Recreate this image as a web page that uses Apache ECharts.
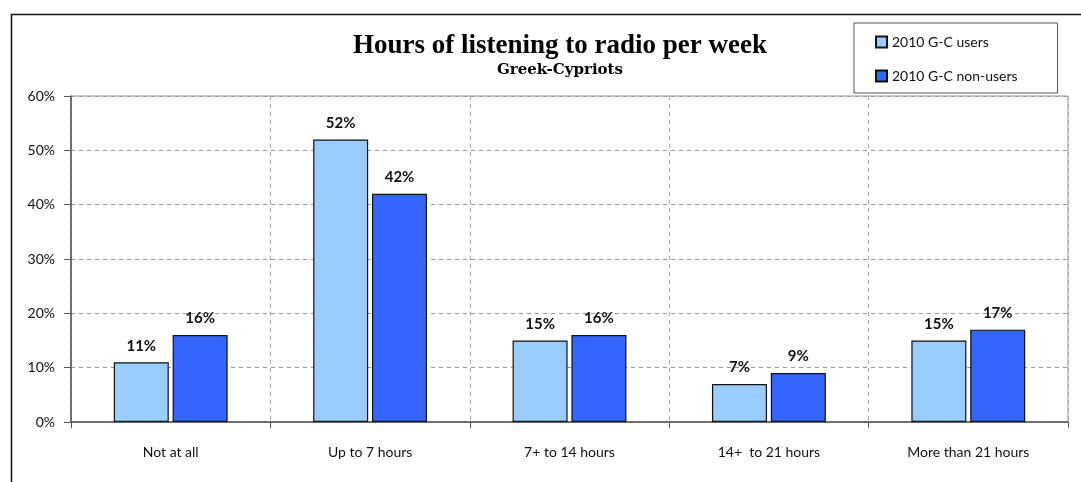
<!DOCTYPE html>
<html>
<head>
<meta charset="utf-8">
<title>Hours of listening to radio per week</title>
<script src="https://cdn.jsdelivr.net/npm/echarts@6/dist/echarts.min.js"></script>
<style>
  html, body { margin: 0; padding: 0; background: #fff; }
  #chart { width: 1081px; height: 482px; }
</style>
</head>
<body>
<div id="chart"></div>
<script>
var categories = ['Not at all', 'Up to 7 hours', '7+ to 14 hours', '14+  to 21 hours', 'More than 21 hours'];
var usersValues = [11, 52, 15, 7, 15];
var nonUsersValues = [16, 42, 16, 9, 17];
var seriesNames = ['2010 G-C users', '2010 G-C non-users'];
var yTicks = [0, 10, 20, 30, 40, 50, 60];

(function () {
  var chart = echarts.init(document.getElementById('chart'));
  var sansFont = 'Lato, "Open Sans", sans-serif';
  var serifFont = '"Liberation Serif", "DejaVu Serif", serif';

  function barLabel() {
    return {
      show: true,
      position: 'top',
      distance: 9,
      formatter: '{c}%',
      color: '#111',
      fontFamily: sansFont,
      fontWeight: 'bold',
      fontSize: 15,
    };
  }

  var option = {
    backgroundColor: '#fff',
    animation: false,
    // outer frame of the chart area
    graphic: [
      {
        type: 'rect',
        left: 9,
        top: 12,
        shape: { width: 1100, height: 500 },
        style: { fill: 'none', stroke: '#111', lineWidth: 1.5 },
        silent: true,
      },
    ],
    title: {
      text: 'Hours of listening to radio per week',
      subtext: 'Greek-Cypriots',
      left: 555,
      textAlign: 'center',
      top: 28,
      itemGap: 3,
      textStyle: {
        fontFamily: serifFont,
        fontWeight: 'bold',
        fontSize: 27,
        color: '#000',
      },
      subtextStyle: {
        fontFamily: '"DejaVu Serif", serif',
        fontWeight: 'bold',
        fontSize: 15,
        color: '#000',
      },
    },
    legend: {
      orient: 'vertical',
      left: 854,
      top: 23,
      padding: [12, 40, 10, 21],
      itemGap: 20,
      itemWidth: 11,
      itemHeight: 11,
      icon: 'rect',
      backgroundColor: '#fff',
      borderColor: '#555',
      borderWidth: 1,
      textStyle: { fontFamily: sansFont, fontSize: 14, color: '#111' },
      data: seriesNames,
    },
    grid: {
      left: 71,
      top: 96,
      right: 13,
      bottom: 60,
      show: true,
      borderColor: '#999',
      borderWidth: 1,
    },
    xAxis: {
      type: 'category',
      data: categories,
      axisLine: { lineStyle: { color: '#555', width: 1.5 } },
      axisTick: { show: true, length: 6, interval: 0, lineStyle: { color: '#555' } },
      axisLabel: { color: '#111', fontFamily: sansFont, fontSize: 14, margin: 23, interval: 0 },
      splitLine: { show: true, interval: 0, lineStyle: { color: '#aaa', type: [4, 4] } },
    },
    yAxis: {
      type: 'value',
      min: yTicks[0],
      max: yTicks[yTicks.length - 1],
      interval: yTicks[1] - yTicks[0],
      axisLine: { show: true, lineStyle: { color: '#555', width: 1.5 } },
      axisTick: { show: true, length: 7, lineStyle: { color: '#555' } },
      axisLabel: { color: '#111', fontFamily: sansFont, fontSize: 14, margin: 16, formatter: '{value}%' },
      splitLine: { lineStyle: { color: '#999', type: [4, 4] } },
    },
    series: [
      {
        name: seriesNames[0],
        type: 'bar',
        data: usersValues,
        barWidth: 55,
        barGap: '7%',
        itemStyle: { color: '#99ccff', borderColor: '#111', borderWidth: 1.2 },
        label: barLabel(),
      },
      {
        name: seriesNames[1],
        type: 'bar',
        data: nonUsersValues,
        barWidth: 55,
        itemStyle: { color: '#3366ff', borderColor: '#111', borderWidth: 1.2 },
        label: barLabel(),
      },
    ],
  };

  chart.setOption(option);
})();
</script>
</body>
</html>
